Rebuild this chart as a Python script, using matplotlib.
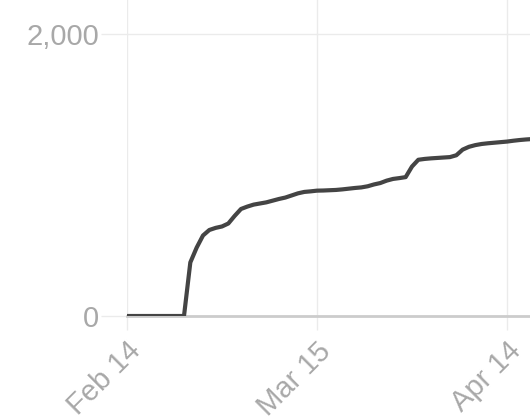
"""Cumulative count line chart, cropped view."""

import datetime as dt

import matplotlib

matplotlib.use("Agg")
import matplotlib.dates as mdates
import matplotlib.pyplot as plt
from matplotlib.ticker import FuncFormatter

START = dt.date(2020, 2, 14)
VALUES = [
    0, 0, 0, 0, 0, 0, 0, 0, 0, 0,
    380, 485, 571, 610, 625, 635, 656, 710, 759, 776,
    790, 798, 806, 818, 830, 840, 855, 870, 880, 884,
    889, 890, 892, 894, 898, 903, 908, 912, 920, 933,
    943, 960, 972, 978, 985, 1060, 1108, 1114, 1118, 1121,
    1124, 1127, 1140, 1180, 1200, 1212, 1220, 1225, 1229, 1233,
    1237, 1243, 1248, 1252, 1255,
]
DATES = [START + dt.timedelta(days=i) for i in range(len(VALUES))]
X_TICKS = [dt.date(2020, 2, 14), dt.date(2020, 3, 15), dt.date(2020, 4, 14)]
Y_TICKS = [0, 2000]

GRID = "#ebebeb"
LABEL = "#a8a8a8"


def main():
    plt.rcParams["font.family"] = ["Liberation Sans", "DejaVu Sans"]
    fig = plt.figure(figsize=(5.3, 4.2), dpi=100)
    # plot area runs off the top and right edge of the image
    ax = fig.add_axes([127 / 530, 104 / 420, 1 - 127 / 530, 316 / 420])

    ax.plot(DATES, VALUES, color="#444444", linewidth=3, solid_joinstyle="round", zorder=3)

    ax.set_xlim(mdates.date2num(START), mdates.date2num(START) + 403 / 6.333)
    ax.set_ylim(0, 2000 + 34 * 2000 / 282)

    for s in ax.spines.values():
        s.set_visible(False)
    ax.axhline(0, color="#cccccc", linewidth=2, zorder=2, clip_on=False)

    ax.set_xticks([mdates.date2num(d) for d in X_TICKS])
    ax.xaxis.set_major_formatter(mdates.DateFormatter("%b %-d"))
    ax.set_yticks(Y_TICKS)
    ax.yaxis.set_major_formatter(FuncFormatter(lambda v, _: f"{v:,.0f}"))

    ax.grid(True, color=GRID, linewidth=1)
    ax.tick_params(axis="y", length=19, width=1, color=GRID, pad=1,
                   labelsize=21, labelcolor=LABEL)
    ax.tick_params(axis="x", length=10, width=1, color=GRID, pad=5,
                   labelsize=21, labelcolor=LABEL)
    for lbl in ax.get_xticklabels():
        lbl.set_rotation(45)
        lbl.set_ha("right")
        lbl.set_rotation_mode("anchor")

    fig.savefig("out.png", dpi=100)


if __name__ == "__main__":
    main()
